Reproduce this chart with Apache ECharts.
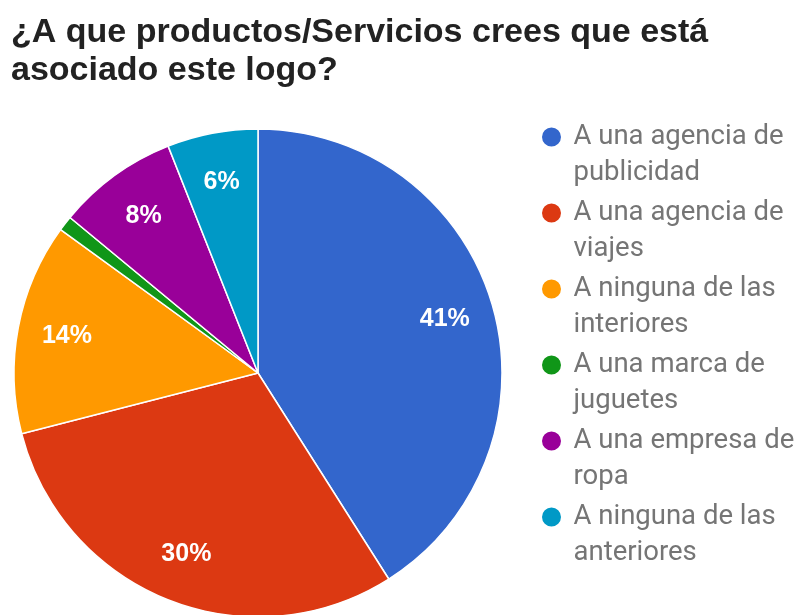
<!DOCTYPE html>
<html>
<head>
<meta charset="utf-8">
<script src="https://cdn.jsdelivr.net/npm/echarts@6/dist/echarts.min.js"></script>
<style>
  html, body { margin: 0; padding: 0; background: #ffffff; }
  #chart { width: 799px; height: 615px; }
</style>
</head>
<body>
<div id="chart"></div>
<script>
// Survey answers and their share of responses (%)
const categories = [
  'A una agencia de publicidad',
  'A una agencia de viajes',
  'A ninguna de las interiores',
  'A una marca de juguetes',
  'A una empresa de ropa',
  'A ninguna de las anteriores'
];
const shares = [41, 30, 14, 1, 8, 6];
const sliceColors = ['#3366cc', '#dc3912', '#ff9900', '#109618', '#990099', '#0099c6'];
const titleLines = ['¿A que productos/Servicios crees que está', 'asociado este logo?'];

const pieCenter = [258, 373];
const pieRadius = 244;

const sliceData = categories.map((name, i) => ({
  name: name,
  value: shares[i],
  itemStyle: { color: sliceColors[i] }
}));

const chart = echarts.init(document.getElementById('chart'), null, { renderer: 'canvas' });

chart.setOption({
  backgroundColor: '#ffffff',
  animation: false,
  title: {
    text: titleLines.join('\n'),
    left: 11,
    top: 14,
    padding: 0,
    textStyle: {
      fontFamily: 'Liberation Sans, Arial, sans-serif',
      fontSize: 34,
      fontWeight: 'bold',
      color: '#222222',
      lineHeight: 37.5
    }
  },
  legend: {
    orient: 'vertical',
    left: 540,
    top: 83,
    padding: 0,
    itemGap: -32,
    itemWidth: 34,
    itemHeight: 21,
    icon: 'circle',
    data: categories,
    selectedMode: false,
    // leading blank line keeps the first text line level with the dot
    formatter: name => '\n' + name,
    textStyle: {
      fontFamily: 'Roboto, Arial, sans-serif',
      fontSize: 27.5,
      color: '#757575',
      lineHeight: 36,
      width: 240,
      overflow: 'break'
    }
  },
  series: [
    {
      type: 'pie',
      center: pieCenter,
      radius: [0, pieRadius],
      startAngle: 90,
      clockwise: true,
      silent: true,
      avoidLabelOverlap: false,
      label: { show: false },
      labelLine: { show: false },
      itemStyle: { borderColor: '#ffffff', borderWidth: 1.5 },
      data: sliceData
    },
    {
      // transparent ring carrying the percentage labels at ~78% of the radius
      type: 'pie',
      center: pieCenter,
      radius: [pieRadius * 0.57, pieRadius],
      startAngle: 90,
      clockwise: true,
      silent: true,
      avoidLabelOverlap: false,
      itemStyle: { color: 'rgba(0,0,0,0)', borderWidth: 0 },
      labelLine: { show: false },
      label: {
        show: true,
        position: 'inside',
        fontFamily: 'Liberation Sans, Arial, sans-serif',
        fontSize: 25,
        fontWeight: 'bold',
        color: '#ffffff',
        formatter: p => (p.value >= 2 ? p.value + '%' : '')
      },
      data: categories.map((name, i) => ({ name: name, value: shares[i] }))
    }
  ]
});
</script>
</body>
</html>
